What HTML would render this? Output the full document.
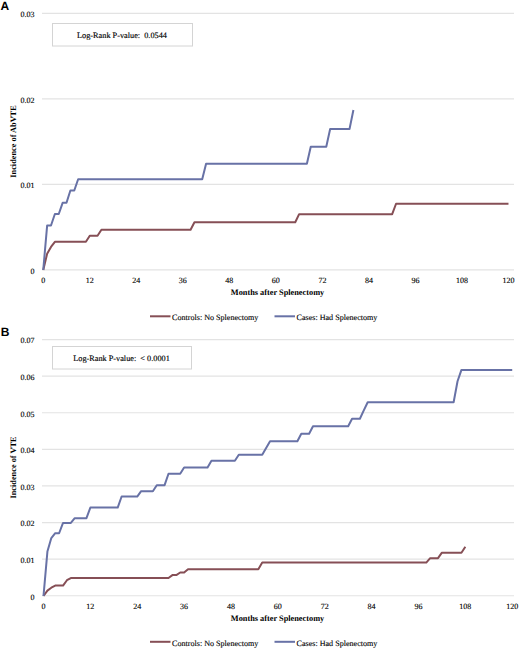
<!DOCTYPE html>
<html><head><meta charset="utf-8"><style>
html,body{margin:0;padding:0;background:#fff;width:520px;height:649px;overflow:hidden}
svg{display:block;-webkit-font-smoothing:antialiased}
text{text-rendering:geometricPrecision}
.t{font-family:"Liberation Serif",serif;font-size:8px;fill:#000;stroke:#000;stroke-width:0.12px}
.tp{font-family:"Liberation Serif",serif;font-size:8.25px;fill:#000;stroke:#000;stroke-width:0.15px}
.tl{font-family:"Liberation Serif",serif;font-size:8.1px;fill:#000;stroke:#000;stroke-width:0.12px}
.tb{font-family:"Liberation Serif",serif;font-size:8.3px;font-weight:bold;fill:#000}
.lbl{font-family:"Liberation Sans",sans-serif;font-size:12px;font-weight:bold;fill:#000}
</style></head><body>
<svg width="520" height="649" viewBox="0 0 520 649">
<rect width="520" height="649" fill="#fff"/>
<text x="0.5" y="10" class="lbl">A</text>
<text x="0.8" y="335.8" class="lbl">B</text>
<line x1="42" y1="13.36" x2="514" y2="13.36" stroke="#e3e3e3" stroke-width="1.2"/>
<text x="34.5" y="17.26" class="t" text-anchor="end">0.03</text>
<line x1="42" y1="98.89" x2="514" y2="98.89" stroke="#e3e3e3" stroke-width="1.2"/>
<text x="34.5" y="102.79" class="t" text-anchor="end">0.02</text>
<line x1="42" y1="184.42" x2="514" y2="184.42" stroke="#e3e3e3" stroke-width="1.2"/>
<text x="34.5" y="188.32" class="t" text-anchor="end">0.01</text>
<line x1="42" y1="269.95" x2="514" y2="269.95" stroke="#e3e3e3" stroke-width="1.2"/>
<text x="34.5" y="273.85" class="t" text-anchor="end">0</text>
<text x="43.25" y="283.3" class="t" text-anchor="middle">0</text>
<text x="89.77" y="283.3" class="t" text-anchor="middle">12</text>
<text x="136.3" y="283.3" class="t" text-anchor="middle">24</text>
<text x="182.82" y="283.3" class="t" text-anchor="middle">36</text>
<text x="229.35" y="283.3" class="t" text-anchor="middle">48</text>
<text x="275.87" y="283.3" class="t" text-anchor="middle">60</text>
<text x="322.39" y="283.3" class="t" text-anchor="middle">72</text>
<text x="368.92" y="283.3" class="t" text-anchor="middle">84</text>
<text x="415.44" y="283.3" class="t" text-anchor="middle">96</text>
<text x="461.97" y="283.3" class="t" text-anchor="middle">108</text>
<text x="508.49" y="283.3" class="t" text-anchor="middle">120</text>
<text x="277.5" y="295" class="tb" text-anchor="middle">Months after Splenectomy</text>
<text x="0" y="0" class="tb" text-anchor="middle" transform="translate(15.8 141.5) rotate(-90)">Incidence of AbVTE</text>
<rect x="52.5" y="23.5" width="140.0" height="22.5" fill="#fff" stroke="#d4d4d4" stroke-width="1"/>
<text x="122" y="38.35" class="tp" text-anchor="middle">Log-Rank P-value:&#160; 0.0544</text>
<path d="M43.25 270 L47.13 253.75 L51 246.91 L54.88 241.78 L85.9 241.78 L89.77 235.8 L97.53 235.8 L101.41 229.81 L190.58 229.81 L194.45 222.29 L295.25 222.29 L299.13 214.17 L392.18 214.17 L396.06 203.74 L508.49 203.74" fill="none" stroke="#864f56" stroke-width="2" stroke-linejoin="round"/>
<path d="M43.25 270 L47.13 225.54 L51 225.54 L54.88 214 L58.76 214 L62.63 202.8 L66.51 202.8 L70.39 190.49 L74.27 190.49 L78.14 179.2 L202.21 179.2 L206.08 163.81 L306.89 163.81 L310.76 146.71 L326.27 146.71 L330.15 129.01 L349.53 129.01 L353.41 110.03" fill="none" stroke="#6872a6" stroke-width="2" stroke-linejoin="round"/>
<line x1="150" y1="316.3" x2="170.5" y2="316.3" stroke="#864f56" stroke-width="2"/>
<text x="172" y="320.2" class="tl">Controls: No Splenectomy</text>
<line x1="274.5" y1="316.3" x2="295" y2="316.3" stroke="#6872a6" stroke-width="2"/>
<text x="296.5" y="320.2" class="tl">Cases: Had Splenectomy</text>
<line x1="42" y1="339.55" x2="514" y2="339.55" stroke="#e3e3e3" stroke-width="1.2"/>
<text x="34.5" y="343.45" class="t" text-anchor="end">0.07</text>
<line x1="42" y1="376.15" x2="514" y2="376.15" stroke="#e3e3e3" stroke-width="1.2"/>
<text x="34.5" y="380.05" class="t" text-anchor="end">0.06</text>
<line x1="42" y1="412.75" x2="514" y2="412.75" stroke="#e3e3e3" stroke-width="1.2"/>
<text x="34.5" y="416.65" class="t" text-anchor="end">0.05</text>
<line x1="42" y1="449.35" x2="514" y2="449.35" stroke="#e3e3e3" stroke-width="1.2"/>
<text x="34.5" y="453.25" class="t" text-anchor="end">0.04</text>
<line x1="42" y1="485.95" x2="514" y2="485.95" stroke="#e3e3e3" stroke-width="1.2"/>
<text x="34.5" y="489.85" class="t" text-anchor="end">0.03</text>
<line x1="42" y1="522.55" x2="514" y2="522.55" stroke="#e3e3e3" stroke-width="1.2"/>
<text x="34.5" y="526.45" class="t" text-anchor="end">0.02</text>
<line x1="42" y1="559.15" x2="514" y2="559.15" stroke="#e3e3e3" stroke-width="1.2"/>
<text x="34.5" y="563.05" class="t" text-anchor="end">0.01</text>
<line x1="42" y1="595.75" x2="514" y2="595.75" stroke="#e3e3e3" stroke-width="1.2"/>
<text x="34.5" y="599.65" class="t" text-anchor="end">0</text>
<text x="43.5" y="608.8" class="t" text-anchor="middle">0</text>
<text x="90.37" y="608.8" class="t" text-anchor="middle">12</text>
<text x="137.24" y="608.8" class="t" text-anchor="middle">24</text>
<text x="184.12" y="608.8" class="t" text-anchor="middle">36</text>
<text x="230.99" y="608.8" class="t" text-anchor="middle">48</text>
<text x="277.86" y="608.8" class="t" text-anchor="middle">60</text>
<text x="324.73" y="608.8" class="t" text-anchor="middle">72</text>
<text x="371.6" y="608.8" class="t" text-anchor="middle">84</text>
<text x="418.48" y="608.8" class="t" text-anchor="middle">96</text>
<text x="465.35" y="608.8" class="t" text-anchor="middle">108</text>
<text x="512.22" y="608.8" class="t" text-anchor="middle">120</text>
<text x="277.5" y="621.2" class="tb" text-anchor="middle">Months after Splenectomy</text>
<text x="0" y="0" class="tb" text-anchor="middle" transform="translate(15.8 467.5) rotate(-90)">Incidence of VTE</text>
<rect x="52.5" y="346.5" width="139.0" height="22.5" fill="#fff" stroke="#d4d4d4" stroke-width="1"/>
<text x="121.5" y="361.35" class="tp" text-anchor="middle">Log-Rank P-value:&#160; &lt; 0.0001</text>
<path d="M43.5 596 L47.41 590.61 L51.31 587.71 L55.22 585.61 L63.03 585.61 L66.94 580.22 L70.84 578.02 L168.49 578.02 L172.4 575.08 L176.3 575.08 L180.21 572.51 L184.12 572.51 L188.02 569.21 L258.33 569.21 L262.24 562.6 L426.29 562.6 L430.19 558.2 L438.01 558.2 L441.91 552.69 L461.44 552.69 L465.35 546.82" fill="none" stroke="#864f56" stroke-width="2" stroke-linejoin="round"/>
<path d="M43.5 596 L47.41 551.59 L51.31 538.01 L55.22 533.24 L59.12 533.24 L63.03 522.97 L70.84 522.97 L74.75 518.2 L86.47 518.2 L90.37 507.55 L117.71 507.55 L121.62 496.54 L137.24 496.54 L141.15 491.18 L152.87 491.18 L156.77 485.17 L164.59 485.17 L168.49 473.79 L180.21 473.79 L184.12 467.55 L207.55 467.55 L211.46 460.76 L234.89 460.76 L238.8 454.82 L262.24 454.82 L266.14 448.1 L270.05 441.31 L297.39 441.31 L301.3 433.79 L309.11 433.79 L313.01 426.26 L348.17 426.26 L352.07 418.74 L359.89 418.74 L363.79 410.3 L367.7 402.22 L453.63 402.22 L457.54 381.3 L461.44 369.93 L512.22 369.93" fill="none" stroke="#6872a6" stroke-width="2" stroke-linejoin="round"/>
<line x1="150" y1="641.8" x2="170.5" y2="641.8" stroke="#864f56" stroke-width="2"/>
<text x="172" y="645.7" class="tl">Controls: No Splenectomy</text>
<line x1="274.5" y1="641.8" x2="295" y2="641.8" stroke="#6872a6" stroke-width="2"/>
<text x="296.5" y="645.7" class="tl">Cases: Had Splenectomy</text>
</svg>
</body></html>
